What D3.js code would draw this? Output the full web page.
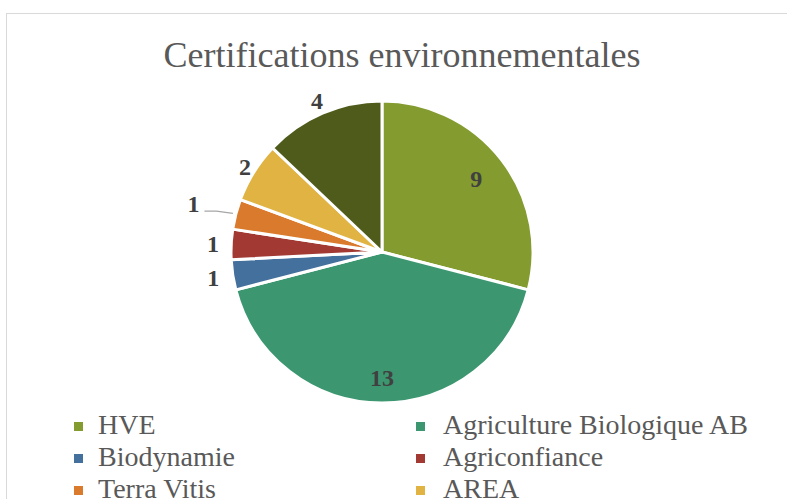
<!DOCTYPE html>
<html><head><meta charset="utf-8">
<script src="https://cdn.jsdelivr.net/npm/d3@7"></script>
<style>html,body{margin:0;padding:0;background:#fff;overflow:hidden}</style>
</head><body>
<svg id="c" width="787" height="499"></svg>
<script>
const categories = ["HVE","Agriculture Biologique AB","Biodynamie","Agriconfiance","Terra Vitis","AREA","Autres"];
const values = [9,13,1,1,1,2,4];
const colors = ["#839b2f","#3c9771","#43709c","#a23a33","#d97a2c","#e0b342","#4e5b1a"];
const title = "Certifications environnementales";

// layout (style) settings
const labelRadiusFactor = [0.79,0.83,1.13,1.12,1.29,1.07,1.09];
const cx = 382, cy = 252, r = 151;
const serif = "'Liberation Serif','Times New Roman',serif";

const svg = d3.select("#c");
svg.append("rect").attr("x",6.5).attr("y",13.5).attr("width",900).attr("height",700)
  .attr("fill","#fff").attr("stroke","#d9d9d9").attr("stroke-width",1);

svg.append("text").attr("x",402).attr("y",67).attr("text-anchor","middle")
  .attr("font-family",serif).attr("font-size",36).attr("fill","#595959").text(title);

const data = categories.map((c,i)=>({name:c,value:values[i],color:colors[i],lf:labelRadiusFactor[i]}));
const pie = d3.pie().value(d=>d.value).sort(null);
const arcs = pie(data);
const arc = d3.arc().innerRadius(0).outerRadius(r);
const g = svg.append("g").attr("transform",`translate(${cx},${cy})`);
g.selectAll("path").data(arcs).enter().append("path")
  .attr("d",arc).attr("fill",d=>d.data.color).attr("stroke","#fff").attr("stroke-width",3).attr("stroke-linejoin","round");

// labels
arcs.forEach((a,i)=>{
  const mid = (a.startAngle+a.endAngle)/2;
  const rr = r*a.data.lf;
  const x = Math.sin(mid)*rr, y = -Math.cos(mid)*rr;
  g.append("text").attr("x",x).attr("y",y).attr("text-anchor","middle").attr("dy","0.35em")
    .attr("font-family",serif).attr("font-weight","bold").attr("font-size",24).attr("fill","#404040")
    .text(a.data.value);
  if (a.data.lf > 1.2) {
    const ex = Math.sin(mid)*(r+3), ey = -Math.cos(mid)*(r+3);
    const kx = x+10, ky = y+8;
    g.append("path").attr("d",`M${x+11},${ky}L${kx+13},${ky}L${ex},${ey}`)
      .attr("fill","none").attr("stroke","#a6a6a6").attr("stroke-width",1.3);
  }
});

// legend
const leg = svg.append("g");
data.forEach((d,i)=>{
  const col = i%2, row = Math.floor(i/2);
  const sx = col===0?74:416, tx = col===0?98:443, ty = 434+row*32;
  leg.append("rect").attr("x",sx).attr("y",ty-12).attr("width",9).attr("height",9).attr("fill",d.color);
  leg.append("text").attr("x",tx).attr("y",ty).attr("font-family",serif).attr("font-size",28)
    .attr("fill","#595959").text(d.name);
});
</script>
</body></html>
